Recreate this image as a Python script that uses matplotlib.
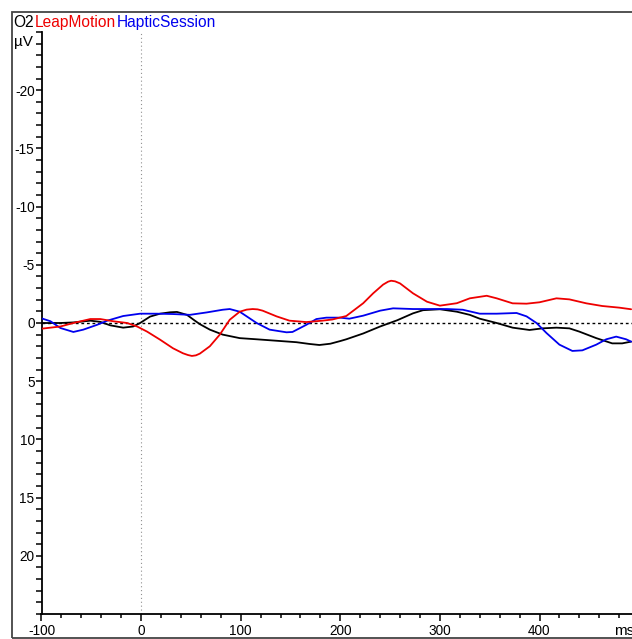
import matplotlib
matplotlib.use("Agg")
import matplotlib.pyplot as plt
from matplotlib.patches import Rectangle
from matplotlib.ticker import MultipleLocator

plt.rcParams['font.family'] = ['Liberation Sans', 'DejaVu Sans']

# ---- data (ms, µV) ----
black_t = [-101, -81, -68, -51, -41, -31, -18, -8, -1, 9, 19, 29, 36, 46, 54, 59, 69, 82, 99,
           116, 132, 156, 169, 179, 190, 200, 206, 223, 240, 257, 273, 283, 300, 317, 330, 340,
           357, 373, 390, 403, 417, 430, 440, 457, 473, 483, 492]
black_v = [0.0, 0.0, -0.05, -0.2, -0.1, 0.2, 0.4, 0.3, 0.0, -0.55, -0.8, -0.92, -0.95, -0.7,
           -0.2, 0.1, 0.57, 1.0, 1.3, 1.4, 1.5, 1.65, 1.8, 1.89, 1.78, 1.55, 1.4, 0.9, 0.3,
           -0.23, -0.83, -1.1, -1.18, -0.97, -0.7, -0.37, 0.0, 0.4, 0.6, 0.46, 0.4, 0.46, 0.74,
           1.3, 1.75, 1.75, 1.6]

red_t = [-101, -81, -68, -51, -41, -28, -14, -4, 6, 19, 32, 42, 47, 51, 55, 59, 69, 79, 89, 99,
         106, 112, 117, 122, 136, 149, 166, 182, 192, 206, 223, 233, 243, 248, 251, 255, 260,
         273, 287, 300, 317, 330, 347, 357, 373, 387, 400, 417, 430, 447, 463, 480, 492]
red_v = [0.5, 0.3, 0.0, -0.34, -0.34, -0.15, 0.0, 0.3, 0.74, 1.43, 2.17, 2.6, 2.75, 2.83, 2.78,
         2.63, 2.0, 1.0, -0.28, -0.97, -1.15, -1.2, -1.17, -1.06, -0.57, -0.2, -0.08, -0.2,
         -0.3, -0.6, -1.7, -2.55, -3.3, -3.55, -3.63, -3.58, -3.4, -2.55, -1.83, -1.49, -1.7,
         -2.12, -2.34, -2.12, -1.69, -1.66, -1.78, -2.12, -2.03, -1.69, -1.46, -1.32, -1.18]

blue_t = [-101, -91, -81, -68, -58, -44, -34, -18, -1, 16, 32, 49, 66, 82, 89, 99, 116, 129,
          146, 152, 166, 176, 186, 200, 209, 223, 240, 253, 273, 290, 307, 323, 340, 357, 377,
          387, 397, 407, 420, 433, 443, 457, 467, 477, 487, 492]
blue_v = [-0.43, -0.15, 0.43, 0.77, 0.57, 0.15, -0.2, -0.6, -0.8, -0.8, -0.77, -0.7, -0.91,
          -1.14, -1.2, -0.97, 0.0, 0.57, 0.8, 0.77, 0.15, -0.34, -0.46, -0.46, -0.37, -0.63,
          -1.06, -1.26, -1.2, -1.2, -1.2, -1.14, -0.8, -0.8, -0.86, -0.57, 0.0, 0.86, 1.86,
          2.4, 2.35, 1.86, 1.4, 1.17, 1.4, 1.6]

y_ticks = [-20, -15, -10, -5, 0, 5, 10, 15, 20]
x_ticks = [-100, 0, 100, 200, 300, 400]

W, H = 632, 639
fig = plt.figure(figsize=(W / 100, H / 100), dpi=100)

# axes placement in pixels
ax_l, ax_r, ax_t, ax_b = 41.5, 632, 32, 614
ax = fig.add_axes([ax_l / W, 1 - ax_b / H, (ax_r - ax_l) / W, (ax_b - ax_t) / H])
ax.set_xlim(-100, -100 + (ax_r - ax_l) * 100 / 99.6)
ax.set_ylim(25, -25)

ax.axhline(0, color='black', lw=1.0, ls=(0, (2, 2)), zorder=1)
ax.axvline(0, color='#909090', lw=0.8, ls=(0, (1, 2.5)), zorder=1)

kw = dict(lw=1.3, zorder=3, solid_joinstyle='round', solid_capstyle='round')
ax.plot(black_t, black_v, color='black', **kw)
ax.plot(blue_t, blue_v, color='#0000ee', **kw)
ax.plot(red_t, red_v, color='#ee0000', **kw)

for s in ['top', 'right']:
    ax.spines[s].set_visible(False)
for s in ['left', 'bottom']:
    ax.spines[s].set_linewidth(1.3)
    ax.spines[s].set_color('black')

ax.set_yticks(y_ticks)
ax.set_yticklabels([str(v) for v in y_ticks])
ax.yaxis.set_minor_locator(MultipleLocator(1))
ax.set_xticks(x_ticks)
ax.set_xticklabels([str(v) for v in x_ticks])
ax.xaxis.set_minor_locator(MultipleLocator(20))
ax.tick_params(axis='y', which='both', direction='out', length=4, width=1.1, labelsize=9.8, pad=1)
ax.tick_params(axis='x', which='major', direction='out', length=5, width=1.1, labelsize=9.8, pad=2)
ax.tick_params(axis='x', which='minor', direction='out', length=3, width=1.1)

# outer frame
fig.patches.append(Rectangle((12 / W, 1 - 637.5 / H), (W + 20 - 12) / W, (637.5 - 11.5) / H,
                             transform=fig.transFigure, fill=False, edgecolor='#444444',
                             lw=1.3, clip_on=False))

# title pieces
fig.text(13 / W, 1 - 27 / H, 'O2', color='black', fontsize=11.2, va='baseline', ha='left')
fig.text(35 / W, 1 - 27 / H, 'LeapMotion', color='#ee0000', fontsize=11.2, va='baseline', ha='left')
fig.text(117 / W, 1 - 27 / H, 'HapticSession', color='#0000ee', fontsize=11.2, va='baseline', ha='left')
fig.text(14 / W, 1 - 46 / H, 'µV', color='black', fontsize=11, va='baseline', ha='left')
fig.text(614 / W, 1 - 635 / H, 'ms', color='black', fontsize=11, va='baseline', ha='left')

fig.savefig('out.png', dpi=100)
